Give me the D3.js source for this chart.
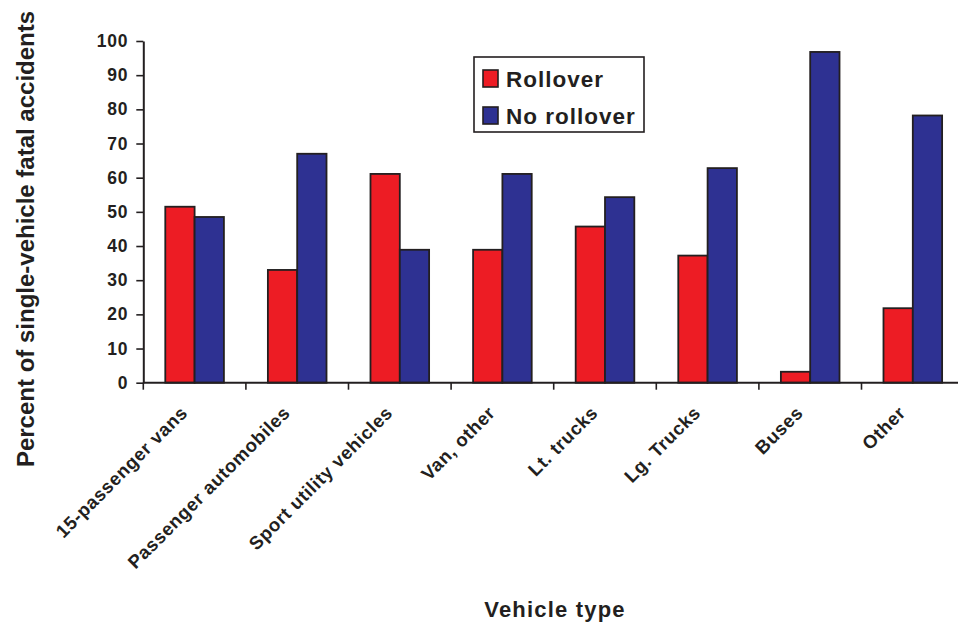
<!DOCTYPE html>
<html>
<head>
<meta charset="utf-8">
<script src="https://cdn.jsdelivr.net/npm/d3@7/dist/d3.min.js"></script>
<style>
  html, body { margin: 0; padding: 0; background: #fff; }
  svg { display: block; }
  text { font-family: "Liberation Sans", Arial, Helvetica, sans-serif; font-weight: bold; fill: #231f20; }
</style>
</head>
<body>
<svg id="chart" width="958" height="626"></svg>
<script>
// Vehicle categories along the x axis
const categories = [
  "15-passenger vans",
  "Passenger automobiles",
  "Sport utility vehicles",
  "Van, other",
  "Lt. trucks",
  "Lg. Trucks",
  "Buses",
  "Other"
];

// Share (%) of single-vehicle fatal accidents
const rollover   = [51.5, 33.0, 61.1, 38.9, 45.7, 37.2, 3.2, 21.8];
const noRollover = [48.5, 67.0, 38.9, 61.1, 54.3, 62.8, 96.8, 78.2];

const seriesNames = ["Rollover", "No rollover"];
const seriesColors = ["#ed1c24", "#2e3192"];
const yTicks = [0, 10, 20, 30, 40, 50, 60, 70, 80, 90, 100];

const ink = "#231f20";
const svg = d3.select("#chart");

const plot = { left: 143.3, right: 964.1, top: 41, bottom: 382.7 };

const x = d3.scaleBand()
  .domain(categories)
  .range([plot.left, plot.right])
  .paddingInner(0)
  .paddingOuter(0);

const xs = d3.scaleBand()
  .domain(seriesNames)
  .range([0, x.bandwidth()])
  .paddingInner(0)
  .paddingOuter(0.75);

const y = d3.scaleLinear()
  .domain([0, 100])
  .range([plot.bottom, plot.top]);

const rows = categories.map((c, i) => ({
  category: c,
  values: [
    { series: seriesNames[0], value: rollover[i], color: seriesColors[0] },
    { series: seriesNames[1], value: noRollover[i], color: seriesColors[1] }
  ]
}));

// Bars
const groups = svg.append("g").selectAll("g")
  .data(rows)
  .join("g")
  .attr("transform", d => `translate(${x(d.category)},0)`);

groups.selectAll("rect")
  .data(d => d.values)
  .join("rect")
  .attr("x", d => xs(d.series))
  .attr("y", d => y(d.value))
  .attr("width", xs.bandwidth())
  .attr("height", d => y(0) - y(d.value))
  .attr("fill", d => d.color)
  .attr("stroke", ink)
  .attr("stroke-width", 1.8);

// Y axis
const yAxis = svg.append("g")
  .attr("transform", `translate(${plot.left},0)`)
  .call(d3.axisLeft(y).tickValues(yTicks).tickSize(7).tickSizeOuter(0).tickPadding(8));
yAxis.select(".domain").attr("stroke", ink).attr("stroke-width", 2);
yAxis.selectAll(".tick line").attr("stroke", ink).attr("stroke-width", 1.6);
yAxis.selectAll(".tick text")
  .style("font-family", "'Liberation Sans', Arial, sans-serif")
  .style("font-weight", "bold")
  .style("font-size", "17.5px")
  .style("letter-spacing", "0.8px")
  .attr("fill", ink);

// X axis baseline with ticks at category boundaries
const xAxis = svg.append("g");
xAxis.append("line")
  .attr("x1", plot.left).attr("x2", plot.right)
  .attr("y1", y(0)).attr("y2", y(0))
  .attr("stroke", ink).attr("stroke-width", 2);

const boundaries = categories.map(c => x(c)).concat([x.range()[1]]);
xAxis.selectAll("line.tick")
  .data(boundaries)
  .join("line")
  .attr("class", "tick")
  .attr("x1", d => d).attr("x2", d => d)
  .attr("y1", y(0)).attr("y2", y(0) + 7)
  .attr("stroke", ink).attr("stroke-width", 1.6);

xAxis.selectAll("text.cat")
  .data(categories)
  .join("text")
  .attr("class", "cat")
  .attr("text-anchor", "end")
  .attr("transform", d => `translate(${x(d) + x.bandwidth() / 2 - 6},414) rotate(-45)`)
  .style("font-size", "18.5px")
  .style("letter-spacing", "0.6px")
  .text(d => d);

// Axis titles
svg.append("text")
  .attr("text-anchor", "middle")
  .attr("transform", "translate(555,617)")
  .style("font-size", "22px")
  .style("letter-spacing", "1.2px")
  .text("Vehicle type");

svg.append("text")
  .attr("text-anchor", "middle")
  .attr("transform", "translate(34,239) rotate(-90)")
  .style("font-size", "24px")
  .text("Percent of single-vehicle fatal accidents");

// Legend
const legend = svg.append("g").attr("transform", "translate(474,57)");
legend.append("rect")
  .attr("width", 170).attr("height", 75)
  .attr("fill", "#fff")
  .attr("stroke", ink).attr("stroke-width", 1.6);

const items = legend.selectAll("g.item")
  .data(seriesNames)
  .join("g")
  .attr("class", "item")
  .attr("transform", (d, i) => `translate(9,${13 + i * 37})`);

items.append("rect")
  .attr("width", 15).attr("height", 17)
  .attr("fill", (d, i) => seriesColors[i])
  .attr("stroke", ink).attr("stroke-width", 1.6);

items.append("text")
  .attr("x", 23).attr("y", 16.5)
  .style("font-size", "22.5px")
  .style("letter-spacing", "1px")
  .text(d => d);
</script>
</body>
</html>
